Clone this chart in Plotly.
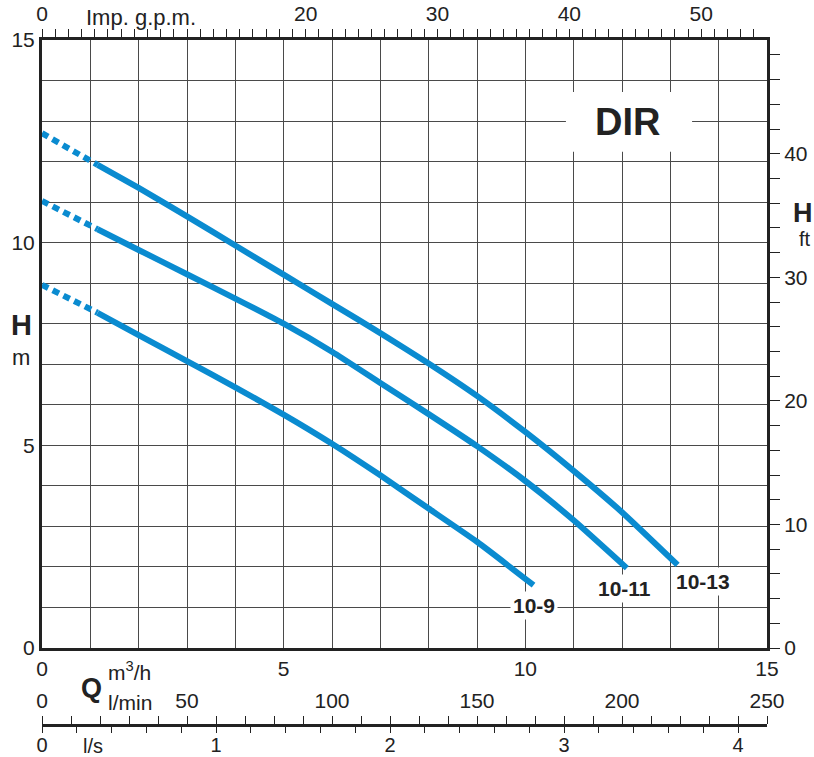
import plotly.graph_objects as go

# ---------------- data ----------------
q_10_13 = [1.15, 2, 3, 4, 5, 6, 7, 8, 9, 10, 11, 12, 13.15]
h_10_13 = [11.92, 11.35, 10.65, 9.93, 9.21, 8.49, 7.77, 7.02, 6.22, 5.33, 4.37, 3.35, 2.05]
q_10_13_dot = [0, 1.15]
h_10_13_dot = [12.7, 11.92]

q_10_11 = [1.15, 2, 3, 4, 5, 6, 7, 8, 9, 10, 11, 12.1]
h_10_11 = [10.33, 9.82, 9.22, 8.62, 8.0, 7.31, 6.54, 5.77, 4.98, 4.12, 3.15, 1.97]
q_10_11_dot = [0, 1.15]
h_10_11_dot = [11.03, 10.33]

q_10_9 = [1.15, 2, 3, 4, 5, 6, 7, 8, 9, 10.17]
h_10_9 = [8.27, 7.72, 7.08, 6.43, 5.76, 5.04, 4.26, 3.44, 2.62, 1.55]
q_10_9_dot = [0, 1.15]
h_10_9_dot = [8.96, 8.27]

curve_names = ["10-9", "10-11", "10-13"]
label_pos = [(10.18, 1.06), (12.06, 1.48), (13.68, 1.63)]

Q_MAX = 15.0                       # m3/h
GPM_MAX = Q_MAX * 219.969 / 60.0   # Imp. g.p.m.
LMIN_MAX = Q_MAX * 1000 / 60.0     # l/min
LS_MAX = Q_MAX / 3.6               # l/s
H_MAX = 15.0                       # m
FT_MAX = H_MAX / 0.3048            # ft

gpm_ticks = [0, 10, 20, 30, 40, 50]
gpm_text = ["0", "", "20", "30", "40", "50"]

# ---------------- layout geometry ----------------
W, H = 814, 757
L, R, T, B = 42, 767, 40, 725     # paper region (pixels)
PLOT_BOTTOM = 648
y_dom0 = (B - PLOT_BOTTOM) / (B - T)

def px(xp, yp):
    return (xp - L) / (R - L), (B - yp) / (B - T)

BLUE = "#0a8bd0"
AX = "#222222"
GRID = "#4a4a4a"
FONT = "Liberation Sans, Arial, Helvetica, sans-serif"
TS = 21

fig = go.Figure()

for qd, hd, qs, hs in [
    (q_10_9_dot, h_10_9_dot, q_10_9, h_10_9),
    (q_10_11_dot, h_10_11_dot, q_10_11, h_10_11),
    (q_10_13_dot, h_10_13_dot, q_10_13, h_10_13),
]:
    fig.add_trace(go.Scatter(x=qd, y=hd, mode="lines",
                             line=dict(color=BLUE, width=6, dash="7px,5px"),
                             hoverinfo="skip", showlegend=False))
    fig.add_trace(go.Scatter(x=qs, y=hs, mode="lines",
                             line=dict(color=BLUE, width=6, shape="spline", smoothing=0.5),
                             showlegend=False))

# invisible traces to bind the secondary axes
fig.add_trace(go.Scatter(x=[0], y=[0], xaxis="x2", yaxis="y2", mode="markers",
                         marker=dict(opacity=0), hoverinfo="skip", showlegend=False))
fig.add_trace(go.Scatter(x=[0], y=[0], xaxis="x3", yaxis="y", mode="markers",
                         marker=dict(opacity=0), hoverinfo="skip", showlegend=False))
fig.add_trace(go.Scatter(x=[0], y=[0], xaxis="x4", yaxis="y", mode="markers",
                         marker=dict(opacity=0), hoverinfo="skip", showlegend=False))

tickfont = dict(family=FONT, size=TS, color="#222")

fig.update_layout(
    width=W, height=H,
    margin=dict(l=L, r=W - R, t=T, b=H - B, autoexpand=False),
    paper_bgcolor="white", plot_bgcolor="white",
    font=dict(family=FONT, color="#222"),
    xaxis=dict(range=[0, Q_MAX], domain=[0, 1], anchor="y",
               tickvals=[0, 5, 10, 15], ticks="", showgrid=True,
               gridcolor=GRID, gridwidth=1, zeroline=False,
               minor=dict(dtick=1, showgrid=True, gridcolor=GRID, gridwidth=1),
               showline=True, linecolor=AX, linewidth=3,
               tickfont=tickfont, fixedrange=True),
    yaxis=dict(range=[0, H_MAX], domain=[y_dom0, 1], anchor="x",
               tickvals=[0, 5, 10, 15], ticks="", showgrid=True,
               gridcolor=GRID, gridwidth=1, zeroline=False,
               minor=dict(dtick=1, showgrid=True, gridcolor=GRID, gridwidth=1),
               showline=True, linecolor=AX, linewidth=3,
               tickfont=tickfont, fixedrange=True),
    xaxis2=dict(range=[0, GPM_MAX], overlaying="x", side="top", anchor="y",
                tickvals=gpm_ticks, ticktext=gpm_text, ticks="outside",
                ticklen=8, tickwidth=1, tickcolor=AX,
                minor=dict(dtick=1, ticks="outside", ticklen=8, tickwidth=1, tickcolor=AX),
                showgrid=False, zeroline=False,
                showline=True, linecolor=AX, linewidth=3,
                tickfont=tickfont, fixedrange=True),
    yaxis2=dict(range=[0, FT_MAX], overlaying="y", side="right", anchor="x",
                tickvals=[0, 10, 20, 30, 40], ticks="outside",
                ticklen=10, tickwidth=1, tickcolor=AX,
                minor=dict(dtick=2, ticks="outside", ticklen=10, tickwidth=1, tickcolor=AX),
                showgrid=False, zeroline=False,
                showline=True, linecolor=AX, linewidth=3,
                tickfont=tickfont, fixedrange=True),
    xaxis3=dict(range=[0, LMIN_MAX], overlaying="x", side="top", anchor="free",
                position=0, tickvals=[0, 50, 100, 150, 200, 250], ticks="outside",
                ticklen=8, tickwidth=1, tickcolor=AX,
                minor=dict(dtick=10, ticks="outside", ticklen=8, tickwidth=1, tickcolor=AX),
                showgrid=False, zeroline=False,
                showline=True, linecolor=AX, linewidth=3,
                tickfont=tickfont, fixedrange=True),
    xaxis4=dict(range=[0, LS_MAX], overlaying="x", side="bottom", anchor="free",
                position=0, tickvals=[0, 1, 2, 3, 4], ticks="outside",
                ticklen=7, tickwidth=1, tickcolor=AX,
                minor=dict(dtick=0.2, ticks="outside", ticklen=7, tickwidth=1, tickcolor=AX),
                showgrid=False, zeroline=False,
                showline=False, ticklabelstandoff=-5,
                tickfont=dict(family=FONT, size=20, color="#222"), fixedrange=True),
    showlegend=False,
)

# DIR box
fig.add_shape(type="rect", xref="x", yref="y", x0=10.84, x1=13.45, y0=12.24, y1=13.72,
              fillcolor="white", line=dict(width=0), layer="above")
fig.add_annotation(x=12.12, y=12.98, xref="x", yref="y", text="<b>DIR</b>",
                   showarrow=False, font=dict(family=FONT, size=38, color="#222"))

# curve labels
for name, (lx, ly) in zip(curve_names, label_pos):
    fig.add_annotation(x=lx, y=ly, xref="x", yref="y", text=f"<b>{name}</b>",
                       showarrow=False, bgcolor="white", borderpad=2,
                       font=dict(family=FONT, size=21, color="#222"))

def ann(xp, yp, text, size, xanchor="center", bold=False):
    x, y = px(xp, yp)
    fig.add_annotation(x=x, y=y, xref="paper", yref="paper",
                       text=f"<b>{text}</b>" if bold else text,
                       showarrow=False, xanchor=xanchor, yanchor="middle",
                       font=dict(family=FONT, size=size, color="#222"))

ann(84, 17, "Imp. g.p.m.", 22, xanchor="left")
ann(21, 325, "H", 29, bold=True)
ann(21, 357, "m", 22)
ann(791, 213, "H", 27, xanchor="left", bold=True)
ann(797, 239, "ft", 20, xanchor="left")
ann(91, 688, "Q", 27, bold=True)
ann(106, 671, "m<sup>3</sup>/h", 21, xanchor="left")
ann(106, 702, "l/min", 21, xanchor="left")
ann(81, 746, "l/s", 20, xanchor="left")

fig.write_html("out.html", config={"displayModeBar": False},
               post_script="document.body.style.margin='0px';")
